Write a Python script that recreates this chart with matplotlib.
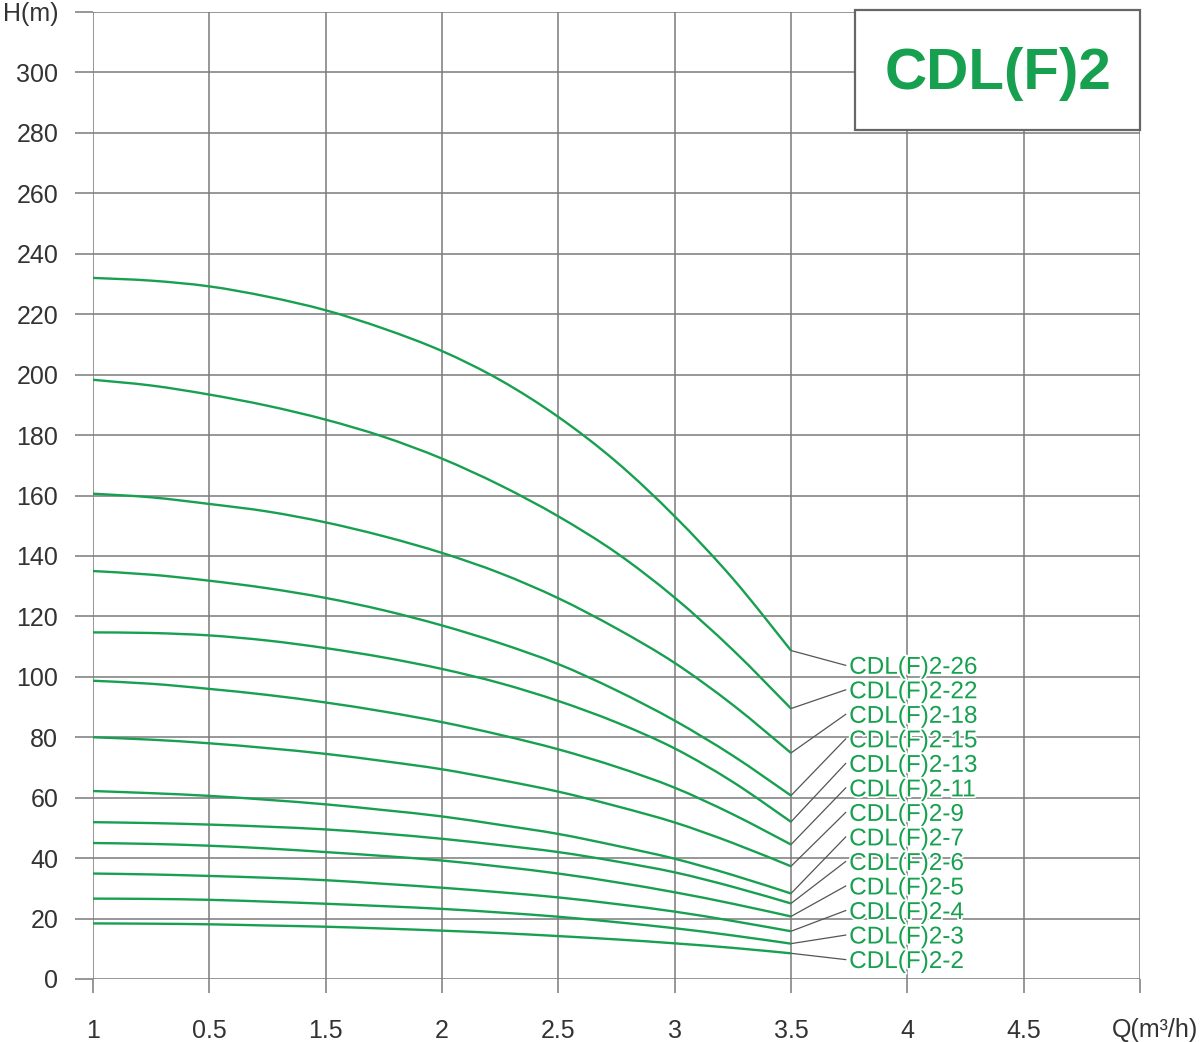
import matplotlib
matplotlib.use("Agg")
import matplotlib.pyplot as plt
from matplotlib.patches import Rectangle, PathPatch
from matplotlib.path import Path
import matplotlib.patheffects as pe

plt.rcParams['font.family'] = ['Liberation Sans', 'DejaVu Sans']

# ---------------- data ----------------
flow = [0.0, 0.25, 0.5, 0.75, 1.0, 1.25, 1.5, 1.75, 2.0, 2.25, 2.5, 2.75, 3.0]

x_tick_pos = [0.0, 0.5, 1.0, 1.5, 2.0, 2.5, 3.0, 3.5, 4.0, 4.5]
x_tick_labels = ["1", "0.5", "1.5", "2", "2.5", "3", "3.5", "4", "4.5", ""]
y_tick_pos = list(range(0, 321, 20))
y_tick_labels = [str(v) for v in range(0, 301, 20)] + ["H(m)"]

models = ["CDL(F)2-26", "CDL(F)2-22", "CDL(F)2-18", "CDL(F)2-15", "CDL(F)2-13",
          "CDL(F)2-11", "CDL(F)2-9", "CDL(F)2-7", "CDL(F)2-6", "CDL(F)2-5",
          "CDL(F)2-4", "CDL(F)2-3", "CDL(F)2-2"]

head_26 = [232.0, 231.1, 229.2, 225.8, 221.3, 215.2, 207.8, 198.2, 186.0, 171.1, 153.1, 132.5, 108.7]
head_22 = [198.3, 196.4, 193.4, 189.7, 185.1, 179.4, 172.2, 163.4, 153.1, 141.0, 126.2, 108.9, 89.5]
head_18 = [160.6, 159.4, 157.2, 154.7, 151.1, 146.5, 141.0, 134.3, 126.0, 116.0, 104.6, 90.7, 74.8]
head_15 = [135.0, 133.8, 131.8, 129.3, 126.1, 122.0, 117.0, 111.1, 104.2, 95.5, 85.5, 73.9, 60.7]
head_13 = [114.7, 114.5, 113.7, 112.0, 109.5, 106.4, 102.6, 97.9, 92.0, 84.9, 76.3, 65.2, 52.0]
head_11 = [98.7, 97.7, 96.0, 94.0, 91.5, 88.5, 85.0, 80.8, 76.0, 70.2, 63.3, 54.5, 44.5]
head_9 = [80.0, 79.2, 78.0, 76.4, 74.5, 72.1, 69.4, 65.9, 62.0, 57.2, 51.8, 45.0, 37.3]
head_7 = [62.2, 61.5, 60.6, 59.3, 57.8, 55.9, 53.8, 51.0, 48.0, 44.1, 39.8, 34.4, 28.3]
head_6 = [51.9, 51.6, 51.1, 50.4, 49.5, 48.1, 46.4, 44.3, 42.0, 38.9, 35.3, 30.5, 25.0]
head_5 = [45.0, 44.7, 44.1, 43.2, 42.0, 40.7, 39.2, 37.2, 34.9, 32.0, 28.7, 24.9, 20.7]
head_4 = [34.9, 34.6, 34.1, 33.5, 32.7, 31.5, 30.2, 28.7, 27.0, 24.8, 22.3, 19.2, 15.8]
head_3 = [26.6, 26.5, 26.2, 25.6, 24.9, 24.1, 23.2, 22.0, 20.6, 18.8, 16.8, 14.4, 11.7]
head_2 = [18.4, 18.3, 18.1, 17.7, 17.3, 16.7, 16.0, 15.2, 14.2, 13.1, 11.8, 10.3, 8.5]

heads = [head_26, head_22, head_18, head_15, head_13, head_11, head_9,
         head_7, head_6, head_5, head_4, head_3, head_2]

title_text = "CDL(F)2"
x_unit = "Q(m\u00b3/h)"

# ---------------- style ----------------
GREEN = "#17a04f"
GRID = "#7a7a7a"
W, H = 1200, 1042


def smooth_path(xs, ys):
    """Cubic Bezier path passing through the data points (Catmull-Rom tangents)."""
    pts = list(zip(xs, ys))
    n = len(pts)
    verts = [pts[0]]
    codes = [Path.MOVETO]
    for i in range(n - 1):
        p0 = pts[i - 1] if i > 0 else pts[i]
        p1 = pts[i]
        p2 = pts[i + 1]
        p3 = pts[i + 2] if i + 2 < n else pts[i + 1]
        c1 = (p1[0] + (p2[0] - p0[0]) / 6.0, p1[1] + (p2[1] - p0[1]) / 6.0)
        c2 = (p2[0] - (p3[0] - p1[0]) / 6.0, p2[1] - (p3[1] - p1[1]) / 6.0)
        verts += [c1, c2, p2]
        codes += [Path.CURVE4, Path.CURVE4, Path.CURVE4]
    return Path(verts, codes)


fig = plt.figure(figsize=(W / 100, H / 100), dpi=100)
ax = fig.add_axes([93 / W, 1 - 979 / H, (1140 - 93) / W, (979 - 12) / H])
ax.set_xlim(0, 4.5)
ax.set_ylim(0, 320)

for s in ax.spines.values():
    s.set_visible(False)

ax.set_xticks(x_tick_pos)
ax.set_xticklabels(x_tick_labels)
ax.set_yticks(y_tick_pos)
ax.set_yticklabels(y_tick_labels)
ax.tick_params(axis='x', length=10, width=1.1, color=GRID, pad=19,
               labelsize=18, labelcolor="#333333")
ax.tick_params(axis='y', length=13, width=1.1, color=GRID, pad=12,
               labelsize=18, labelcolor="#333333")
ax.grid(True, color=GRID, linewidth=1.1, zorder=0)
ax.set_axisbelow(True)

# curves
for h in heads:
    ax.add_patch(PathPatch(smooth_path(flow, h), facecolor='none', edgecolor=GREEN,
                           linewidth=1.7, zorder=3, capstyle='butt'))

# labels with leader lines
label_x = 3.25
label_top = 103.0
label_step = 8.115
for i, (name, h) in enumerate(zip(models, heads)):
    ly = label_top - i * label_step
    ax.plot([flow[-1], label_x - 0.015], [h[-1], ly + 0.8], color="#555555",
            linewidth=0.9, zorder=2)
    ax.text(label_x, ly, name, color=GREEN, fontsize=17.5, va='center', ha='left',
            zorder=4, path_effects=[pe.withStroke(linewidth=2.5, foreground='white')])

# title box
box = Rectangle((3.273, 280.8), 4.5 - 3.273, 320.7 - 280.8, facecolor='white',
                edgecolor="#666666", linewidth=1.6, zorder=5, clip_on=False)
ax.add_patch(box)
ax.text(3.889, 299.6, title_text, color=GREEN, fontsize=42, fontweight='bold',
        ha='center', va='center', zorder=6)

# x unit label
fig.text(1155 / W, 1 - 1030 / H, x_unit, fontsize=18, color="#333333",
         ha='center', va='center')

fig.savefig("out.png", dpi=100)
